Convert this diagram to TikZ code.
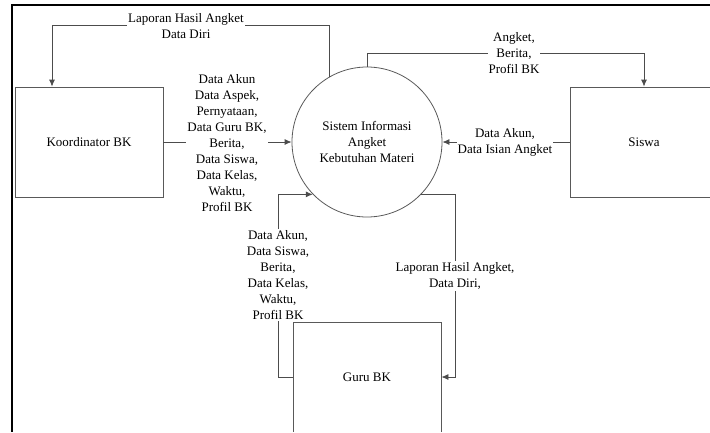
\documentclass[tikz,border=0pt]{standalone}
\usepackage{fontspec}
\setmainfont{Liberation Serif}
\usetikzlibrary{arrows.meta}
\begin{document}
\begin{tikzpicture}[x=1pt, y=-1pt,
    entitas/.style={draw=black!65, line width=0.8pt, minimum width=148pt, minimum height=110pt},
    proses/.style={draw=black!65, line width=0.8pt, circle, minimum size=150pt, align=center, inner sep=0pt},
    arus/.style={-{Latex[length=7pt,width=6pt]}, draw=black!70, line width=0.8pt},
    ket/.style={fill=white, align=center, inner sep=1pt},
    font=\fontsize{13}{16}\selectfont]
    \useasboundingbox (0,0) rectangle (710,432);
    \clip (0,0) rectangle (710,431.5);
    % bingkai
    \draw[line width=1.6pt] (12,440) -- (12,5) -- (720,5);
    % proses dan entitas
    \node[proses] (sim) at (367,142) {Sistem Informasi\\Angket\\Kebutuhan Materi};
    \node[entitas] (koor) at (89,142) {Koordinator BK};
    \node[entitas] (siswa) at (644,142) {Siswa};
    \node[entitas] (guru) at (367,377) {Guru BK};
    % arus data
    \coordinate (t1) at (52,25);
    \coordinate (t2) at (644,53);
    \draw[arus] (sim.120) |- (t1) -- (t1 |- koor.north);
    \draw[arus] (koor.east) -- (sim.west);
    \draw[arus] (sim.north) |- (t2) -- (siswa.north);
    \draw[arus] (siswa.west) -- (sim.east);
    \draw[arus] (guru.west) -- ++(-14,0) |- (sim.224);
    \draw[arus] (sim.316) -| ([xshift=14pt]guru.east) -- (guru.east);
    % keterangan
    \node[ket] (k1) at (186,26) {Laporan Hasil Angket\\Data Diri};
    \node[ket] (k2) at (227,143) {Data Akun\\Data Aspek,\\Pernyataan,\\Data Guru BK,\\Berita,\\Data Siswa,\\Data Kelas,\\Waktu,\\Profil BK};
    \node[ket] (k3) at (514,53) {Angket,\\Berita,\\Profil BK};
    \node[ket] (k4) at (505,142) {Data Akun,\\Data Isian Angket};
    \node[ket] (k5) at (278,275) {Data Akun,\\Data Siswa,\\Berita,\\Data Kelas,\\Waktu,\\Profil BK};
    \node[ket] (k6) at (455,276) {Laporan Hasil Angket,\\Data Diri,};
\end{tikzpicture}
\end{document}
